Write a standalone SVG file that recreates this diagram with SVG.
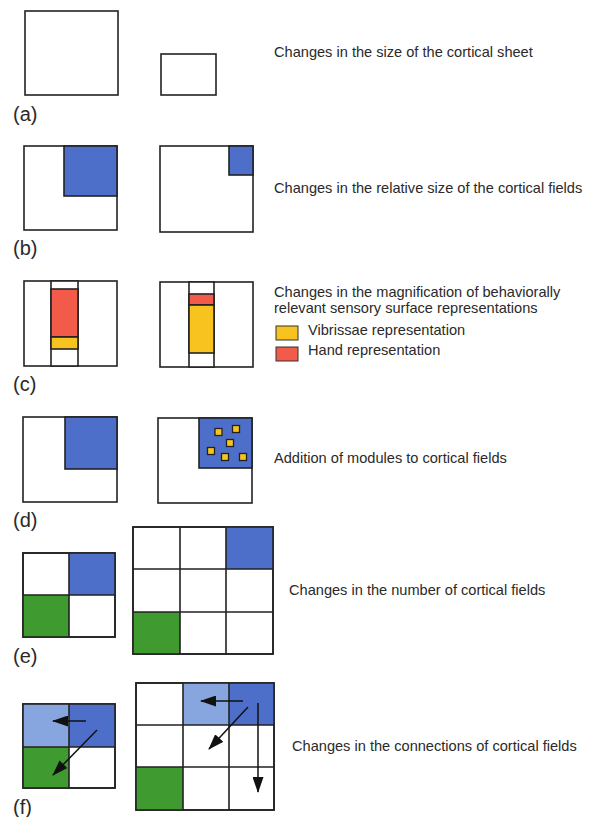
<svg xmlns="http://www.w3.org/2000/svg" width="593" height="817" viewBox="0 0 593 817">
<defs>
<style>
.b{fill:#fff;stroke:#222;stroke-width:1.6}
.n{stroke:#222;stroke-width:1.6}
.blue{fill:#4d6fca}
.lb{fill:#87a6df}
.gr{fill:#3f9a2f}
.red{fill:#f25a4a}
.yel{fill:#f8c31e}
.t{font-family:"Liberation Sans",Arial,sans-serif;font-size:14.6px;fill:#2a2a2a}
.l{font-family:"Liberation Sans",Arial,sans-serif;font-size:20px;fill:#2a2a2a}
.ln{stroke:#222;stroke-width:1.6;fill:none}
.ar{stroke:#111;stroke-width:1.5;fill:none;marker-end:url(#ah)}
</style>
<marker id="ah" viewBox="0 0 16 11" refX="15" refY="5.5" markerWidth="16" markerHeight="11" markerUnits="userSpaceOnUse" orient="auto">
<path d="M0,0 L16,5.5 L0,11 z" fill="#111"/>
</marker>
</defs>

<g id="a">
<rect class="b" x="25" y="11" width="93" height="84"/>
<rect class="b" x="161" y="54" width="55" height="41"/>
<text class="l" x="13" y="121">(a)</text>
<text class="t" x="274" y="57">Changes in the size of the cortical sheet</text>
</g>

<g id="b">
<rect class="b" x="24" y="146" width="93" height="84"/>
<rect class="blue n" x="64" y="146" width="53" height="50"/>
<rect class="b" x="160" y="146" width="93" height="86"/>
<rect class="blue n" x="229" y="146" width="24" height="29"/>
<text class="l" x="13" y="255">(b)</text>
<text class="t" x="274" y="193">Changes in the relative size of the cortical fields</text>
</g>

<g id="c">
<rect class="b" x="24" y="281" width="93" height="85"/>
<rect class="b" x="51" y="281" width="27" height="85"/>
<rect class="red n" x="51" y="289" width="27" height="48"/>
<rect class="yel n" x="51" y="337" width="27" height="12"/>
<rect class="b" x="160" y="282" width="93" height="85"/>
<rect class="b" x="189" y="282" width="25" height="85"/>
<rect class="red n" x="189" y="294" width="25" height="11"/>
<rect class="yel n" x="189" y="305" width="25" height="48"/>
<text class="l" x="13" y="391">(c)</text>
<text class="t" x="274" y="297">Changes in the magnification of behaviorally</text>
<text class="t" x="274" y="313">relevant sensory surface representations</text>
<rect class="yel" x="276" y="326" width="22" height="14" stroke="#333" stroke-width="1"/>
<text class="t" x="308" y="335">Vibrissae representation</text>
<rect class="red" x="276" y="347" width="22" height="14" stroke="#333" stroke-width="1"/>
<text class="t" x="308" y="355">Hand representation</text>
</g>

<g id="d">
<rect class="b" x="23" y="417" width="94" height="85"/>
<rect class="blue n" x="65" y="417" width="52" height="52"/>
<rect class="b" x="158" y="418" width="94" height="85"/>
<rect class="blue n" x="199" y="418" width="53" height="50"/>
<g class="yel" stroke="#222" stroke-width="1.3">
<rect x="215" y="428.5" width="7" height="7"/>
<rect x="232.5" y="425.5" width="7" height="7"/>
<rect x="226.5" y="439.5" width="7" height="7"/>
<rect x="207.5" y="447.5" width="7" height="7"/>
<rect x="221.5" y="453.5" width="7" height="7"/>
<rect x="239.5" y="453.5" width="7" height="7"/>
</g>
<text class="l" x="13" y="527">(d)</text>
<text class="t" x="274" y="463">Addition of modules to cortical fields</text>
</g>

<g id="e">
<rect class="b" x="23" y="553" width="92" height="84"/>
<rect class="blue" x="69" y="553" width="46" height="42"/>
<rect class="gr" x="23" y="595" width="46" height="42"/>
<path class="ln" d="M69,553V637M23,595H115"/>
<rect class="ln" x="23" y="553" width="92" height="84"/>
<rect class="b" x="133" y="527" width="140" height="127"/>
<rect class="blue" x="226" y="527" width="47" height="42"/>
<rect class="gr" x="133" y="612" width="47" height="42"/>
<path class="ln" d="M180,527V654M226,527V654M133,569H273M133,612H273"/>
<rect class="ln" x="133" y="527" width="140" height="127"/>
<text class="l" x="13" y="663">(e)</text>
<text class="t" x="289" y="595">Changes in the number of cortical fields</text>
</g>

<g id="f">
<rect class="b" x="23" y="704" width="92" height="84"/>
<rect class="lb" x="23" y="704" width="46" height="43"/>
<rect class="blue" x="69" y="704" width="46" height="43"/>
<rect class="gr" x="23" y="747" width="46" height="41"/>
<path class="ln" d="M69,704V788M23,747H115"/>
<rect class="ln" x="23" y="704" width="92" height="84"/>
<rect class="b" x="136" y="683" width="138" height="127"/>
<rect class="lb" x="183" y="683" width="46" height="42"/>
<rect class="blue" x="229" y="683" width="45" height="42"/>
<rect class="gr" x="136" y="767" width="47" height="43"/>
<path class="ln" d="M183,683V810M229,683V810M136,725H274M136,767H274"/>
<rect class="ln" x="136" y="683" width="138" height="127"/>
<text class="l" x="13" y="814">(f)</text>
<text class="t" x="292" y="751">Changes in the connections of cortical fields</text>
</g>

<g id="connectors">
<line class="ar" x1="86" y1="721" x2="53" y2="721"/>
<line class="ar" x1="97" y1="730" x2="53" y2="775"/>
<line class="ar" x1="243" y1="701" x2="201" y2="701"/>
<line class="ar" x1="248" y1="707" x2="209" y2="749"/>
<line class="ar" x1="258" y1="703" x2="258" y2="792"/>
</g>
</svg>
